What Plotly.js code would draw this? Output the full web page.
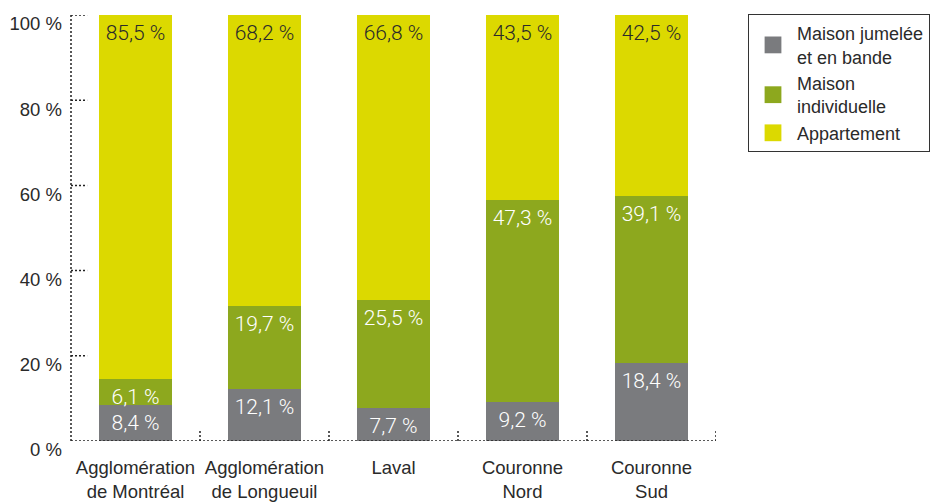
<!DOCTYPE html>
<html>
<head>
<meta charset="utf-8">
<script src="https://cdn.plot.ly/plotly-3.0.1.min.js"></script>
<style>html,body{margin:0;padding:0;background:#fff;}#chart{width:930px;height:502px;}</style>
</head>
<body>
<div id="chart"></div>
<script>
const categories = ["Agglomération<br>de Montréal", "Agglomération<br>de Longueuil", "Laval", "Couronne<br>Nord", "Couronne<br>Sud"];
const jumelee = [8.4, 12.1, 7.7, 9.2, 18.4];
const individuelle = [6.1, 19.7, 25.5, 47.3, 39.1];
const appartement = [85.5, 68.2, 66.8, 43.5, 42.5];
const seriesNames = ["Maison jumelée<br>et en bande", "Maison<br>individuelle", "Appartement"];
const yTicks = [0, 20, 40, 60, 80, 100];
const yTickText = yTicks.map(t => t + ' %');

const FONT = "Liberation Sans, Arial, sans-serif";
const LIGHT = "Roboto, Liberation Sans, sans-serif";
const fmt = v => v.toFixed(1).replace('.', ',') + ' %';

function barTrace(name, vals, color, textColor) {
  return {
    type: 'bar', name: name, x: categories, y: vals,
    marker: {color: color, line: {width: 0}},
    width: 0.56,
    text: vals.map(fmt), textposition: 'inside', insidetextanchor: 'end',
    textfont: {family: LIGHT, size: 21, weight: 300, color: textColor},
    hoverinfo: 'skip'
  };
}

const data = [
  barTrace(seriesNames[0], jumelee, '#7a7b7e', '#ffffff'),
  barTrace(seriesNames[1], individuelle, '#8da81e', '#ffffff'),
  barTrace(seriesNames[2], appartement, '#dcd900', '#2a2a2a')
];

const dot = {color: '#222', width: 1.5, dash: '2px,2px'};
const shapes = [
  {type: 'line', xref: 'paper', yref: 'y', x0: 0, x1: 0, y0: 0, y1: 100, line: dot},
  {type: 'line', xref: 'paper', yref: 'y', x0: 0, x1: 1, y0: 0, y1: 0, line: dot}
];
yTicks.forEach(t => { if (t > 0) shapes.push({type: 'line', xref: 'paper', yref: 'y', x0: 0, x1: 0.025, y0: t, y1: t, line: dot}); });
[0.5, 1.5, 2.5, 3.5, 4.5].forEach(b => shapes.push({type: 'line', xref: 'x', yref: 'y', ysizemode: 'pixel', yanchor: 0, x0: b, x1: b, y0: 0, y1: 10, line: dot}));

const layout = {
  width: 930, height: 502,
  margin: {l: 71, r: 214, t: 15, b: 61, autoexpand: false},
  paper_bgcolor: '#fff', plot_bgcolor: '#fff',
  barmode: 'stack', bargap: 0.44,
  font: {family: FONT, size: 18, color: '#2a2a2a'},
  uniformtext: {mode: 'show', minsize: 21},
  xaxis: {range: [-0.5, 4.5], showline: false, showgrid: false, zeroline: false, ticks: '', tickfont: {size: 18.5, color: '#2a2a2a'}, ticklabelstandoff: 13, automargin: false},
  yaxis: {range: [0, 100], tickvals: yTicks, ticktext: yTickText, showline: false, showgrid: false, zeroline: false, ticks: '', tickfont: {size: 18.5, color: '#2a2a2a'}, ticklabelstandoff: 8, ticklabelshift: 9, ticklabeloverflow: 'allow', automargin: false},
  legend: {xref: 'container', yref: 'container', x: 748/930, xanchor: 'left', y: 1 - 14/502, yanchor: 'top', traceorder: 'normal', bordercolor: '#333', borderwidth: 1, font: {size: 18, color: '#2a2a2a'}, bgcolor: '#fff', tracegroupgap: 6, itemwidth: 38},
  shapes: shapes,
  showlegend: true
};

Plotly.newPlot('chart', data, layout, {displayModeBar: false, staticPlot: true}).then(gd => {
  gd.querySelectorAll('.bartext').forEach(t => {
    const tr = t.getAttribute('transform') || '';
    t.setAttribute('transform', 'translate(0,3) ' + tr);
  });
  gd.querySelectorAll('.legendpoints path').forEach(p => {
    const tr = p.getAttribute('transform') || '';
    p.setAttribute('transform', tr + ' scale(1.4)');
  });
});
</script>
</body>
</html>
